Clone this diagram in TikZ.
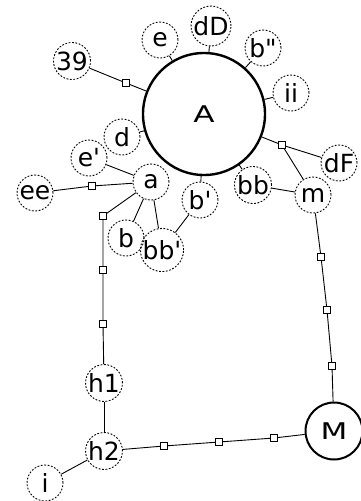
\documentclass[tikz,border=0pt]{standalone}
\usepackage{fontspec}
\setmainfont{DejaVu Sans}[Ligatures=TeXOff]
\newcommand{\widetxt}[1]{\scalebox{1.35}[1]{#1}}
\begin{document}
\begin{tikzpicture}[x=1pt,y=-1pt,
  lbl/.style={circle,draw,dash pattern=on 1.8pt off 1.6pt,line width=0.9pt,minimum size=36pt,inner sep=0pt,font=\fontsize{25}{27}\selectfont},
  big/.style={circle,draw,line width=2.4pt,inner sep=0pt,font=\fontsize{23}{25}\selectfont},
  sq/.style={rectangle,draw,fill=white,line width=0.8pt,minimum size=6.5pt,inner sep=0pt},
  edge/.style={draw,line width=0.9pt}]
\useasboundingbox (0,0) rectangle (361,501);
\node[big,minimum size=122pt] (A) at (204,114) {\widetxt{A}};
\node[big,minimum size=57pt,line width=2pt] (M) at (334,431) {\widetxt{M}};
\node[lbl] (e) at (160,40) {e};
\node[lbl] (dD) at (211,26) {dD};
\node[lbl] (bpp) at (263,48) {b"};
\node[lbl] (ii) at (291,93) {ii};
\node[lbl] (n39) at (72,61) {39};
\node[lbl] (d) at (122,137) {d};
\node[lbl] (ep) at (89,158) {e'};
\node[lbl] (a) at (151,182) {a};
\node[lbl] (ee) at (35,193) {ee};
\node[lbl] (bp) at (200,200) {b'};
\node[lbl] (bb) at (253,185) {bb};
\node[lbl] (dF) at (339,163) {dF};
\node[lbl] (m) at (313,195) {m};
\node[lbl] (b) at (126,238) {b};
\node[lbl] (bbp) at (162,250) {bb'};
\node[lbl] (h1) at (104,383) {h1};
\node[lbl] (h2) at (104,451) {h2};
\node[lbl] (i) at (45,483) {i};
\node[sq] (s39) at (126,83) {};
\node[sq] (sdf) at (282,145) {};
\node[sq] (see) at (92,186) {};
\node[sq] (sa1) at (103,216) {};
\node[sq] (sa2) at (103,270) {};
\node[sq] (sa3) at (103,324) {};
\node[sq] (sm1) at (321,257) {};
\node[sq] (sm2) at (327,310) {};
\node[sq] (sm3) at (332,366) {};
\node[sq] (sh1) at (164,446) {};
\node[sq] (sh2) at (219,442) {};
\node[sq] (sh3) at (274,438) {};
\path[edge] (A) -- (e);
\path[edge] (A) -- (dD);
\path[edge] (A) -- (bpp);
\path[edge] (A) -- (ii);
\path[edge] (A) -- (d);
\path[edge] (A) -- (bp);
\path[edge] (A) -- (bb);
\path[edge] (n39) -- (s39) -- (A);
\path[edge] (A) -- (sdf) -- (dF);
\path[edge] (sdf) -- (m);
\path[edge] (bb) -- (m);
\path[edge] (ee) -- (see) -- (a);
\path[edge] (ep) -- (a);
\path[edge] (a) -- (b);
\path[edge] (a) -- (bbp);
\path[edge] (bp) -- (bbp);
\path[edge] (a) -- (sa1) -- (sa2) -- (sa3) -- (h1);
\path[edge] (h1) -- (h2);
\path[edge] (h2) -- (i);
\path[edge] (h2) -- (sh1) -- (sh2) -- (sh3) -- (M);
\path[edge] (m) -- (sm1) -- (sm2) -- (sm3) -- (M);
\end{tikzpicture}
\end{document}
